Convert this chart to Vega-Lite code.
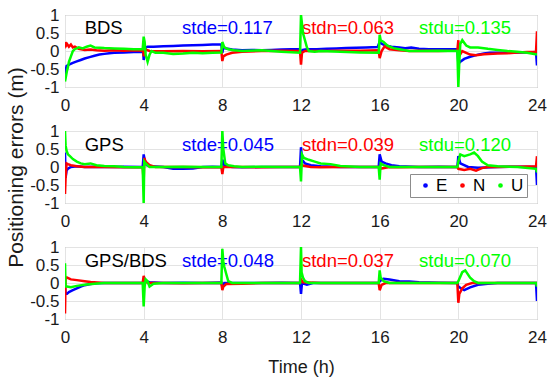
{
"$schema": "https://vega.github.io/schema/vega-lite/v6.json",
"padding": {"left": 5, "top": 5, "right": 5, "bottom": 0},
"bounds": "flush",
"spacing": 44,
"background": "white",
"config": {
  "font": "Liberation Sans",
  "view": {"stroke": "#999999", "strokeWidth": 1},
  "axis": {"grid": true, "gridColor": "#e3e3e3", "domain": false, "ticks": false, "tickSize": 0, "labelFontSize": 17, "labelColor": "#1a1a1a", "labelFont": "Liberation Sans", "titleFont": "Liberation Sans", "titleFontWeight": "normal", "titleColor": "#1a1a1a", "labelOverlap": false, "labelFlush": false},
  "axisX": {"labelPadding": 10},
  "axisY": {"labelPadding": 6},
  "text": {"font": "Liberation Sans"}
},
"resolve": {"scale": {"color": "independent"}, "legend": {"color": "independent"}},
"datasets": {
"errs": [
{"p":"BDS","s":"E","t":0,"v":-0.75},{"p":"BDS","s":"E","t":0.03,"v":-0.55},{"p":"BDS","s":"E","t":0.08,"v":-0.42},{"p":"BDS","s":"E","t":0.2,"v":-0.38},{"p":"BDS","s":"E","t":0.4,"v":-0.33},{"p":"BDS","s":"E","t":0.6,"v":-0.29},{"p":"BDS","s":"E","t":0.8,"v":-0.25},{"p":"BDS","s":"E","t":1.0,"v":-0.21},{"p":"BDS","s":"E","t":1.25,"v":-0.17},{"p":"BDS","s":"E","t":1.5,"v":-0.13},{"p":"BDS","s":"E","t":1.75,"v":-0.1},{"p":"BDS","s":"E","t":2,"v":-0.08},{"p":"BDS","s":"E","t":2.25,"v":-0.06},{"p":"BDS","s":"E","t":2.5,"v":-0.05},{"p":"BDS","s":"E","t":3,"v":-0.04},{"p":"BDS","s":"E","t":3.5,"v":-0.03},{"p":"BDS","s":"E","t":3.98,"v":-0.03},{"p":"BDS","s":"E","t":4.0,"v":-0.25},{"p":"BDS","s":"E","t":4.05,"v":-0.1},{"p":"BDS","s":"E","t":4.1,"v":0.1},{"p":"BDS","s":"E","t":4.2,"v":0.12},{"p":"BDS","s":"E","t":4.5,"v":0.12},{"p":"BDS","s":"E","t":5,"v":0.13},{"p":"BDS","s":"E","t":5.5,"v":0.14},{"p":"BDS","s":"E","t":6,"v":0.15},{"p":"BDS","s":"E","t":6.5,"v":0.16},{"p":"BDS","s":"E","t":7,"v":0.17},{"p":"BDS","s":"E","t":7.5,"v":0.18},{"p":"BDS","s":"E","t":7.95,"v":0.18},{"p":"BDS","s":"E","t":8.0,"v":-0.05},{"p":"BDS","s":"E","t":8.05,"v":0.1},{"p":"BDS","s":"E","t":8.2,"v":0.07},{"p":"BDS","s":"E","t":8.5,"v":0.04},{"p":"BDS","s":"E","t":9,"v":0.02},{"p":"BDS","s":"E","t":9.5,"v":0.03},{"p":"BDS","s":"E","t":10,"v":0.02},{"p":"BDS","s":"E","t":10.5,"v":0.03},{"p":"BDS","s":"E","t":11,"v":0.04},{"p":"BDS","s":"E","t":11.5,"v":0.05},{"p":"BDS","s":"E","t":11.95,"v":0.05},{"p":"BDS","s":"E","t":12.0,"v":-0.05},{"p":"BDS","s":"E","t":12.1,"v":0.03},{"p":"BDS","s":"E","t":12.3,"v":0.05},{"p":"BDS","s":"E","t":12.8,"v":0.05},{"p":"BDS","s":"E","t":13.3,"v":0.06},{"p":"BDS","s":"E","t":13.8,"v":0.07},{"p":"BDS","s":"E","t":14.3,"v":0.08},{"p":"BDS","s":"E","t":14.8,"v":0.09},{"p":"BDS","s":"E","t":15.3,"v":0.1},{"p":"BDS","s":"E","t":15.9,"v":0.11},{"p":"BDS","s":"E","t":16.0,"v":0.25},{"p":"BDS","s":"E","t":16.1,"v":0.2},{"p":"BDS","s":"E","t":16.3,"v":0.15},{"p":"BDS","s":"E","t":16.6,"v":0.12},{"p":"BDS","s":"E","t":17,"v":0.1},{"p":"BDS","s":"E","t":17.3,"v":0.08},{"p":"BDS","s":"E","t":17.6,"v":0.1},{"p":"BDS","s":"E","t":18,"v":0.06},{"p":"BDS","s":"E","t":18.5,"v":0.05},{"p":"BDS","s":"E","t":19,"v":0.05},{"p":"BDS","s":"E","t":19.5,"v":0.05},{"p":"BDS","s":"E","t":19.95,"v":0.05},{"p":"BDS","s":"E","t":20.0,"v":-0.35},{"p":"BDS","s":"E","t":20.1,"v":-0.3},{"p":"BDS","s":"E","t":20.3,"v":-0.22},{"p":"BDS","s":"E","t":20.6,"v":-0.16},{"p":"BDS","s":"E","t":21,"v":-0.1},{"p":"BDS","s":"E","t":21.3,"v":-0.07},{"p":"BDS","s":"E","t":21.6,"v":-0.05},{"p":"BDS","s":"E","t":22,"v":-0.05},{"p":"BDS","s":"E","t":22.5,"v":-0.05},{"p":"BDS","s":"E","t":23,"v":-0.04},{"p":"BDS","s":"E","t":23.5,"v":-0.04},{"p":"BDS","s":"E","t":23.95,"v":-0.03},{"p":"BDS","s":"E","t":24,"v":-0.4},
{"p":"BDS","s":"N","t":0,"v":0.25},{"p":"BDS","s":"N","t":0.05,"v":0.15},{"p":"BDS","s":"N","t":0.1,"v":0.2},{"p":"BDS","s":"N","t":0.2,"v":0.12},{"p":"BDS","s":"N","t":0.3,"v":0.18},{"p":"BDS","s":"N","t":0.4,"v":0.1},{"p":"BDS","s":"N","t":0.5,"v":0.12},{"p":"BDS","s":"N","t":0.7,"v":0.06},{"p":"BDS","s":"N","t":1,"v":0.03},{"p":"BDS","s":"N","t":1.3,"v":0.04},{"p":"BDS","s":"N","t":1.6,"v":0.02},{"p":"BDS","s":"N","t":2,"v":0.01},{"p":"BDS","s":"N","t":2.5,"v":0.02},{"p":"BDS","s":"N","t":3,"v":0.01},{"p":"BDS","s":"N","t":3.5,"v":0.02},{"p":"BDS","s":"N","t":3.98,"v":0.01},{"p":"BDS","s":"N","t":4.0,"v":-0.15},{"p":"BDS","s":"N","t":4.05,"v":0.05},{"p":"BDS","s":"N","t":4.3,"v":0.0},{"p":"BDS","s":"N","t":5,"v":-0.01},{"p":"BDS","s":"N","t":6,"v":0.0},{"p":"BDS","s":"N","t":7,"v":-0.01},{"p":"BDS","s":"N","t":7.95,"v":0.0},{"p":"BDS","s":"N","t":8.0,"v":-0.28},{"p":"BDS","s":"N","t":8.05,"v":-0.15},{"p":"BDS","s":"N","t":8.2,"v":-0.1},{"p":"BDS","s":"N","t":8.5,"v":-0.05},{"p":"BDS","s":"N","t":9,"v":-0.02},{"p":"BDS","s":"N","t":10,"v":0.0},{"p":"BDS","s":"N","t":11,"v":0.01},{"p":"BDS","s":"N","t":11.95,"v":0.0},{"p":"BDS","s":"N","t":12.0,"v":-0.38},{"p":"BDS","s":"N","t":12.05,"v":-0.05},{"p":"BDS","s":"N","t":12.2,"v":0.0},{"p":"BDS","s":"N","t":13,"v":0.0},{"p":"BDS","s":"N","t":14,"v":0.01},{"p":"BDS","s":"N","t":15,"v":0.01},{"p":"BDS","s":"N","t":15.95,"v":0.02},{"p":"BDS","s":"N","t":16.0,"v":-0.2},{"p":"BDS","s":"N","t":16.1,"v":0.0},{"p":"BDS","s":"N","t":16.25,"v":0.13},{"p":"BDS","s":"N","t":16.5,"v":0.05},{"p":"BDS","s":"N","t":17,"v":0.02},{"p":"BDS","s":"N","t":17.5,"v":0.0},{"p":"BDS","s":"N","t":18,"v":0.01},{"p":"BDS","s":"N","t":19,"v":0.0},{"p":"BDS","s":"N","t":19.95,"v":0.01},{"p":"BDS","s":"N","t":20.0,"v":0.3},{"p":"BDS","s":"N","t":20.03,"v":-0.15},{"p":"BDS","s":"N","t":20.2,"v":0.0},{"p":"BDS","s":"N","t":20.4,"v":-0.05},{"p":"BDS","s":"N","t":20.6,"v":-0.1},{"p":"BDS","s":"N","t":20.9,"v":-0.12},{"p":"BDS","s":"N","t":21.3,"v":-0.09},{"p":"BDS","s":"N","t":22,"v":-0.07},{"p":"BDS","s":"N","t":22.5,"v":-0.06},{"p":"BDS","s":"N","t":23,"v":-0.04},{"p":"BDS","s":"N","t":23.5,"v":-0.03},{"p":"BDS","s":"N","t":23.95,"v":-0.02},{"p":"BDS","s":"N","t":24,"v":0.55},
{"p":"BDS","s":"U","t":0,"v":-0.85},{"p":"BDS","s":"U","t":0.05,"v":-0.7},{"p":"BDS","s":"U","t":0.1,"v":-0.55},{"p":"BDS","s":"U","t":0.15,"v":-0.45},{"p":"BDS","s":"U","t":0.2,"v":-0.3},{"p":"BDS","s":"U","t":0.3,"v":-0.15},{"p":"BDS","s":"U","t":0.4,"v":0.0},{"p":"BDS","s":"U","t":0.5,"v":0.05},{"p":"BDS","s":"U","t":0.7,"v":0.1},{"p":"BDS","s":"U","t":0.9,"v":0.07},{"p":"BDS","s":"U","t":1.1,"v":0.12},{"p":"BDS","s":"U","t":1.3,"v":0.15},{"p":"BDS","s":"U","t":1.5,"v":0.1},{"p":"BDS","s":"U","t":2,"v":0.08},{"p":"BDS","s":"U","t":2.5,"v":0.07},{"p":"BDS","s":"U","t":3,"v":0.06},{"p":"BDS","s":"U","t":3.5,"v":0.05},{"p":"BDS","s":"U","t":3.95,"v":0.05},{"p":"BDS","s":"U","t":4.0,"v":0.4},{"p":"BDS","s":"U","t":4.05,"v":0.25},{"p":"BDS","s":"U","t":4.1,"v":-0.1},{"p":"BDS","s":"U","t":4.2,"v":-0.3},{"p":"BDS","s":"U","t":4.3,"v":-0.1},{"p":"BDS","s":"U","t":4.4,"v":0.0},{"p":"BDS","s":"U","t":4.6,"v":-0.05},{"p":"BDS","s":"U","t":5,"v":-0.05},{"p":"BDS","s":"U","t":5.5,"v":-0.08},{"p":"BDS","s":"U","t":6,"v":-0.07},{"p":"BDS","s":"U","t":6.5,"v":-0.05},{"p":"BDS","s":"U","t":7,"v":-0.06},{"p":"BDS","s":"U","t":7.5,"v":-0.05},{"p":"BDS","s":"U","t":7.95,"v":-0.04},{"p":"BDS","s":"U","t":8.0,"v":0.25},{"p":"BDS","s":"U","t":8.1,"v":0.1},{"p":"BDS","s":"U","t":8.3,"v":0.05},{"p":"BDS","s":"U","t":8.6,"v":0.02},{"p":"BDS","s":"U","t":9,"v":0.0},{"p":"BDS","s":"U","t":10,"v":0.02},{"p":"BDS","s":"U","t":11,"v":-0.02},{"p":"BDS","s":"U","t":11.95,"v":-0.05},{"p":"BDS","s":"U","t":12.0,"v":1.0},{"p":"BDS","s":"U","t":12.05,"v":0.75},{"p":"BDS","s":"U","t":12.1,"v":0.5},{"p":"BDS","s":"U","t":12.2,"v":0.3},{"p":"BDS","s":"U","t":12.3,"v":0.1},{"p":"BDS","s":"U","t":12.4,"v":0.0},{"p":"BDS","s":"U","t":12.7,"v":-0.02},{"p":"BDS","s":"U","t":13,"v":0.0},{"p":"BDS","s":"U","t":14,"v":-0.02},{"p":"BDS","s":"U","t":15,"v":-0.04},{"p":"BDS","s":"U","t":15.95,"v":-0.05},{"p":"BDS","s":"U","t":16.0,"v":0.45},{"p":"BDS","s":"U","t":16.05,"v":0.3},{"p":"BDS","s":"U","t":16.2,"v":0.25},{"p":"BDS","s":"U","t":16.4,"v":0.15},{"p":"BDS","s":"U","t":16.7,"v":0.08},{"p":"BDS","s":"U","t":17,"v":0.05},{"p":"BDS","s":"U","t":17.5,"v":0.0},{"p":"BDS","s":"U","t":18,"v":0.0},{"p":"BDS","s":"U","t":19,"v":0.01},{"p":"BDS","s":"U","t":19.95,"v":0.0},{"p":"BDS","s":"U","t":20.0,"v":-1.0},{"p":"BDS","s":"U","t":20.05,"v":-0.3},{"p":"BDS","s":"U","t":20.1,"v":0.2},{"p":"BDS","s":"U","t":20.2,"v":0.3},{"p":"BDS","s":"U","t":20.4,"v":0.15},{"p":"BDS","s":"U","t":20.6,"v":0.1},{"p":"BDS","s":"U","t":21,"v":0.1},{"p":"BDS","s":"U","t":21.5,"v":0.06},{"p":"BDS","s":"U","t":22,"v":0.03},{"p":"BDS","s":"U","t":22.5,"v":0.0},{"p":"BDS","s":"U","t":23,"v":-0.02},{"p":"BDS","s":"U","t":23.5,"v":-0.05},{"p":"BDS","s":"U","t":24,"v":-0.1},
{"p":"GPS","s":"E","t":0,"v":0.4},{"p":"GPS","s":"E","t":0.03,"v":-0.3},{"p":"GPS","s":"E","t":0.08,"v":-0.1},{"p":"GPS","s":"E","t":0.15,"v":-0.05},{"p":"GPS","s":"E","t":0.3,"v":0.0},{"p":"GPS","s":"E","t":0.6,"v":0.02},{"p":"GPS","s":"E","t":1,"v":0.0},{"p":"GPS","s":"E","t":1.5,"v":0.01},{"p":"GPS","s":"E","t":2,"v":0.0},{"p":"GPS","s":"E","t":3,"v":0.01},{"p":"GPS","s":"E","t":3.95,"v":0.0},{"p":"GPS","s":"E","t":4.0,"v":0.35},{"p":"GPS","s":"E","t":4.05,"v":0.2},{"p":"GPS","s":"E","t":4.15,"v":0.05},{"p":"GPS","s":"E","t":4.4,"v":0.02},{"p":"GPS","s":"E","t":5,"v":0.0},{"p":"GPS","s":"E","t":5.5,"v":-0.05},{"p":"GPS","s":"E","t":6,"v":-0.05},{"p":"GPS","s":"E","t":6.5,"v":-0.04},{"p":"GPS","s":"E","t":7,"v":0.0},{"p":"GPS","s":"E","t":7.5,"v":0.01},{"p":"GPS","s":"E","t":7.95,"v":0.0},{"p":"GPS","s":"E","t":8.0,"v":0.2},{"p":"GPS","s":"E","t":8.1,"v":0.05},{"p":"GPS","s":"E","t":8.5,"v":0.0},{"p":"GPS","s":"E","t":9,"v":-0.01},{"p":"GPS","s":"E","t":10,"v":0.0},{"p":"GPS","s":"E","t":11,"v":0.0},{"p":"GPS","s":"E","t":11.95,"v":0.0},{"p":"GPS","s":"E","t":12.0,"v":0.55},{"p":"GPS","s":"E","t":12.05,"v":0.2},{"p":"GPS","s":"E","t":12.2,"v":0.1},{"p":"GPS","s":"E","t":12.5,"v":0.05},{"p":"GPS","s":"E","t":13,"v":0.02},{"p":"GPS","s":"E","t":14,"v":0.0},{"p":"GPS","s":"E","t":15,"v":0.0},{"p":"GPS","s":"E","t":15.95,"v":0.0},{"p":"GPS","s":"E","t":16.0,"v":0.35},{"p":"GPS","s":"E","t":16.1,"v":0.15},{"p":"GPS","s":"E","t":16.3,"v":0.1},{"p":"GPS","s":"E","t":16.6,"v":0.05},{"p":"GPS","s":"E","t":17,"v":0.02},{"p":"GPS","s":"E","t":18,"v":0.0},{"p":"GPS","s":"E","t":19,"v":0.01},{"p":"GPS","s":"E","t":19.95,"v":0.0},{"p":"GPS","s":"E","t":20.0,"v":0.3},{"p":"GPS","s":"E","t":20.1,"v":0.1},{"p":"GPS","s":"E","t":20.5,"v":0.0},{"p":"GPS","s":"E","t":21,"v":-0.02},{"p":"GPS","s":"E","t":22,"v":0.0},{"p":"GPS","s":"E","t":23,"v":0.01},{"p":"GPS","s":"E","t":23.95,"v":0.0},{"p":"GPS","s":"E","t":24,"v":-0.5},
{"p":"GPS","s":"N","t":0,"v":-0.75},{"p":"GPS","s":"N","t":0.03,"v":-0.3},{"p":"GPS","s":"N","t":0.08,"v":0.1},{"p":"GPS","s":"N","t":0.15,"v":0.08},{"p":"GPS","s":"N","t":0.3,"v":0.05},{"p":"GPS","s":"N","t":0.6,"v":0.02},{"p":"GPS","s":"N","t":1,"v":0.0},{"p":"GPS","s":"N","t":2,"v":0.0},{"p":"GPS","s":"N","t":3,"v":-0.01},{"p":"GPS","s":"N","t":3.95,"v":0.0},{"p":"GPS","s":"N","t":4.0,"v":-0.4},{"p":"GPS","s":"N","t":4.03,"v":0.25},{"p":"GPS","s":"N","t":4.1,"v":0.15},{"p":"GPS","s":"N","t":4.3,"v":0.05},{"p":"GPS","s":"N","t":4.6,"v":0.0},{"p":"GPS","s":"N","t":5,"v":0.0},{"p":"GPS","s":"N","t":6,"v":0.0},{"p":"GPS","s":"N","t":7,"v":-0.01},{"p":"GPS","s":"N","t":7.95,"v":0.0},{"p":"GPS","s":"N","t":8.0,"v":-0.2},{"p":"GPS","s":"N","t":8.05,"v":0.0},{"p":"GPS","s":"N","t":9,"v":0.0},{"p":"GPS","s":"N","t":10,"v":-0.01},{"p":"GPS","s":"N","t":11,"v":0.0},{"p":"GPS","s":"N","t":11.95,"v":0.0},{"p":"GPS","s":"N","t":12.0,"v":0.05},{"p":"GPS","s":"N","t":12.5,"v":0.0},{"p":"GPS","s":"N","t":13,"v":-0.01},{"p":"GPS","s":"N","t":14,"v":0.0},{"p":"GPS","s":"N","t":15,"v":0.0},{"p":"GPS","s":"N","t":15.95,"v":0.0},{"p":"GPS","s":"N","t":16.0,"v":-0.05},{"p":"GPS","s":"N","t":16.5,"v":0.0},{"p":"GPS","s":"N","t":17,"v":-0.01},{"p":"GPS","s":"N","t":18,"v":0.0},{"p":"GPS","s":"N","t":19,"v":0.0},{"p":"GPS","s":"N","t":19.95,"v":0.0},{"p":"GPS","s":"N","t":20.0,"v":-0.05},{"p":"GPS","s":"N","t":20.3,"v":-0.08},{"p":"GPS","s":"N","t":20.6,"v":-0.05},{"p":"GPS","s":"N","t":20.9,"v":-0.1},{"p":"GPS","s":"N","t":21.2,"v":-0.03},{"p":"GPS","s":"N","t":21.5,"v":0.0},{"p":"GPS","s":"N","t":22,"v":0.0},{"p":"GPS","s":"N","t":23,"v":0.01},{"p":"GPS","s":"N","t":23.95,"v":0.02},{"p":"GPS","s":"N","t":24,"v":0.3},
{"p":"GPS","s":"U","t":0,"v":1.0},{"p":"GPS","s":"U","t":0.03,"v":0.6},{"p":"GPS","s":"U","t":0.08,"v":0.45},{"p":"GPS","s":"U","t":0.15,"v":0.35},{"p":"GPS","s":"U","t":0.25,"v":0.3},{"p":"GPS","s":"U","t":0.4,"v":0.22},{"p":"GPS","s":"U","t":0.6,"v":0.15},{"p":"GPS","s":"U","t":0.8,"v":0.1},{"p":"GPS","s":"U","t":1.0,"v":0.08},{"p":"GPS","s":"U","t":1.3,"v":0.1},{"p":"GPS","s":"U","t":1.6,"v":0.05},{"p":"GPS","s":"U","t":2,"v":0.03},{"p":"GPS","s":"U","t":2.5,"v":0.02},{"p":"GPS","s":"U","t":3,"v":0.0},{"p":"GPS","s":"U","t":3.5,"v":-0.01},{"p":"GPS","s":"U","t":3.95,"v":0.0},{"p":"GPS","s":"U","t":4.0,"v":-1.0},{"p":"GPS","s":"U","t":4.03,"v":0.15},{"p":"GPS","s":"U","t":4.1,"v":0.1},{"p":"GPS","s":"U","t":4.3,"v":0.0},{"p":"GPS","s":"U","t":5,"v":0.0},{"p":"GPS","s":"U","t":6,"v":0.01},{"p":"GPS","s":"U","t":7,"v":0.0},{"p":"GPS","s":"U","t":7.95,"v":0.0},{"p":"GPS","s":"U","t":8.0,"v":1.0},{"p":"GPS","s":"U","t":8.05,"v":0.5},{"p":"GPS","s":"U","t":8.15,"v":0.1},{"p":"GPS","s":"U","t":8.3,"v":0.05},{"p":"GPS","s":"U","t":8.6,"v":0.02},{"p":"GPS","s":"U","t":9,"v":0.0},{"p":"GPS","s":"U","t":10,"v":0.01},{"p":"GPS","s":"U","t":11,"v":0.0},{"p":"GPS","s":"U","t":11.95,"v":0.0},{"p":"GPS","s":"U","t":12.0,"v":-0.4},{"p":"GPS","s":"U","t":12.05,"v":0.35},{"p":"GPS","s":"U","t":12.15,"v":0.25},{"p":"GPS","s":"U","t":12.4,"v":0.2},{"p":"GPS","s":"U","t":12.7,"v":0.15},{"p":"GPS","s":"U","t":13,"v":0.1},{"p":"GPS","s":"U","t":13.5,"v":0.08},{"p":"GPS","s":"U","t":14,"v":0.03},{"p":"GPS","s":"U","t":15,"v":0.0},{"p":"GPS","s":"U","t":15.95,"v":0.0},{"p":"GPS","s":"U","t":16.0,"v":-0.35},{"p":"GPS","s":"U","t":16.05,"v":0.1},{"p":"GPS","s":"U","t":16.2,"v":0.05},{"p":"GPS","s":"U","t":16.5,"v":0.0},{"p":"GPS","s":"U","t":17,"v":0.0},{"p":"GPS","s":"U","t":18,"v":0.0},{"p":"GPS","s":"U","t":19,"v":0.0},{"p":"GPS","s":"U","t":19.95,"v":0.0},{"p":"GPS","s":"U","t":20.0,"v":0.15},{"p":"GPS","s":"U","t":20.1,"v":0.35},{"p":"GPS","s":"U","t":20.3,"v":0.3},{"p":"GPS","s":"U","t":20.6,"v":0.35},{"p":"GPS","s":"U","t":20.8,"v":0.4},{"p":"GPS","s":"U","t":21.0,"v":0.3},{"p":"GPS","s":"U","t":21.2,"v":0.15},{"p":"GPS","s":"U","t":21.5,"v":0.05},{"p":"GPS","s":"U","t":22,"v":0.02},{"p":"GPS","s":"U","t":23,"v":0.0},{"p":"GPS","s":"U","t":23.95,"v":-0.05},{"p":"GPS","s":"U","t":24,"v":-0.15},
{"p":"GPS/BDS","s":"E","t":0,"v":-0.1},{"p":"GPS/BDS","s":"E","t":0.03,"v":-0.3},{"p":"GPS/BDS","s":"E","t":0.1,"v":-0.3},{"p":"GPS/BDS","s":"E","t":0.2,"v":-0.25},{"p":"GPS/BDS","s":"E","t":0.4,"v":-0.2},{"p":"GPS/BDS","s":"E","t":0.6,"v":-0.15},{"p":"GPS/BDS","s":"E","t":0.8,"v":-0.1},{"p":"GPS/BDS","s":"E","t":1,"v":-0.06},{"p":"GPS/BDS","s":"E","t":1.3,"v":-0.03},{"p":"GPS/BDS","s":"E","t":1.6,"v":-0.01},{"p":"GPS/BDS","s":"E","t":2,"v":0.0},{"p":"GPS/BDS","s":"E","t":3,"v":0.0},{"p":"GPS/BDS","s":"E","t":3.95,"v":0.0},{"p":"GPS/BDS","s":"E","t":4.0,"v":-0.05},{"p":"GPS/BDS","s":"E","t":4.1,"v":0.05},{"p":"GPS/BDS","s":"E","t":4.3,"v":0.02},{"p":"GPS/BDS","s":"E","t":5,"v":0.0},{"p":"GPS/BDS","s":"E","t":6,"v":0.01},{"p":"GPS/BDS","s":"E","t":7,"v":0.0},{"p":"GPS/BDS","s":"E","t":7.95,"v":0.01},{"p":"GPS/BDS","s":"E","t":8.0,"v":-0.1},{"p":"GPS/BDS","s":"E","t":8.1,"v":0.0},{"p":"GPS/BDS","s":"E","t":9,"v":0.0},{"p":"GPS/BDS","s":"E","t":10,"v":0.0},{"p":"GPS/BDS","s":"E","t":11,"v":0.01},{"p":"GPS/BDS","s":"E","t":11.95,"v":0.0},{"p":"GPS/BDS","s":"E","t":12.0,"v":-0.3},{"p":"GPS/BDS","s":"E","t":12.05,"v":0.0},{"p":"GPS/BDS","s":"E","t":12.3,"v":-0.05},{"p":"GPS/BDS","s":"E","t":12.6,"v":0.0},{"p":"GPS/BDS","s":"E","t":13,"v":0.0},{"p":"GPS/BDS","s":"E","t":14,"v":0.0},{"p":"GPS/BDS","s":"E","t":15,"v":0.0},{"p":"GPS/BDS","s":"E","t":15.95,"v":0.0},{"p":"GPS/BDS","s":"E","t":16.0,"v":0.05},{"p":"GPS/BDS","s":"E","t":16.2,"v":0.12},{"p":"GPS/BDS","s":"E","t":16.5,"v":0.1},{"p":"GPS/BDS","s":"E","t":17,"v":0.05},{"p":"GPS/BDS","s":"E","t":17.5,"v":0.04},{"p":"GPS/BDS","s":"E","t":18,"v":0.02},{"p":"GPS/BDS","s":"E","t":19,"v":0.01},{"p":"GPS/BDS","s":"E","t":19.95,"v":0.0},{"p":"GPS/BDS","s":"E","t":20.0,"v":-0.1},{"p":"GPS/BDS","s":"E","t":20.3,"v":-0.2},{"p":"GPS/BDS","s":"E","t":20.6,"v":-0.12},{"p":"GPS/BDS","s":"E","t":21,"v":-0.05},{"p":"GPS/BDS","s":"E","t":21.5,"v":-0.02},{"p":"GPS/BDS","s":"E","t":22,"v":0.0},{"p":"GPS/BDS","s":"E","t":23,"v":0.0},{"p":"GPS/BDS","s":"E","t":23.95,"v":0.0},{"p":"GPS/BDS","s":"E","t":24,"v":-0.5},
{"p":"GPS/BDS","s":"N","t":0,"v":-0.85},{"p":"GPS/BDS","s":"N","t":0.03,"v":0.15},{"p":"GPS/BDS","s":"N","t":0.1,"v":0.15},{"p":"GPS/BDS","s":"N","t":0.3,"v":0.1},{"p":"GPS/BDS","s":"N","t":0.6,"v":0.08},{"p":"GPS/BDS","s":"N","t":1,"v":0.05},{"p":"GPS/BDS","s":"N","t":1.3,"v":0.03},{"p":"GPS/BDS","s":"N","t":2,"v":0.0},{"p":"GPS/BDS","s":"N","t":3,"v":0.0},{"p":"GPS/BDS","s":"N","t":3.95,"v":0.0},{"p":"GPS/BDS","s":"N","t":4.0,"v":0.2},{"p":"GPS/BDS","s":"N","t":4.05,"v":0.1},{"p":"GPS/BDS","s":"N","t":4.2,"v":0.0},{"p":"GPS/BDS","s":"N","t":5,"v":0.0},{"p":"GPS/BDS","s":"N","t":6,"v":-0.01},{"p":"GPS/BDS","s":"N","t":7,"v":0.0},{"p":"GPS/BDS","s":"N","t":7.95,"v":0.0},{"p":"GPS/BDS","s":"N","t":8.0,"v":-0.2},{"p":"GPS/BDS","s":"N","t":8.05,"v":-0.1},{"p":"GPS/BDS","s":"N","t":8.2,"v":-0.03},{"p":"GPS/BDS","s":"N","t":9,"v":-0.02},{"p":"GPS/BDS","s":"N","t":10,"v":0.0},{"p":"GPS/BDS","s":"N","t":11,"v":0.0},{"p":"GPS/BDS","s":"N","t":11.95,"v":0.0},{"p":"GPS/BDS","s":"N","t":12.0,"v":0.1},{"p":"GPS/BDS","s":"N","t":12.1,"v":0.02},{"p":"GPS/BDS","s":"N","t":13,"v":0.0},{"p":"GPS/BDS","s":"N","t":14,"v":0.0},{"p":"GPS/BDS","s":"N","t":15,"v":0.0},{"p":"GPS/BDS","s":"N","t":15.95,"v":0.0},{"p":"GPS/BDS","s":"N","t":16.0,"v":-0.2},{"p":"GPS/BDS","s":"N","t":16.1,"v":-0.05},{"p":"GPS/BDS","s":"N","t":16.3,"v":0.0},{"p":"GPS/BDS","s":"N","t":17,"v":0.0},{"p":"GPS/BDS","s":"N","t":18,"v":0.0},{"p":"GPS/BDS","s":"N","t":19,"v":0.0},{"p":"GPS/BDS","s":"N","t":19.95,"v":0.0},{"p":"GPS/BDS","s":"N","t":20.0,"v":-0.55},{"p":"GPS/BDS","s":"N","t":20.05,"v":-0.3},{"p":"GPS/BDS","s":"N","t":20.2,"v":-0.15},{"p":"GPS/BDS","s":"N","t":20.4,"v":-0.05},{"p":"GPS/BDS","s":"N","t":20.7,"v":0.0},{"p":"GPS/BDS","s":"N","t":21,"v":0.0},{"p":"GPS/BDS","s":"N","t":22,"v":0.0},{"p":"GPS/BDS","s":"N","t":23,"v":0.0},{"p":"GPS/BDS","s":"N","t":24,"v":0.0},
{"p":"GPS/BDS","s":"U","t":0,"v":0.55},{"p":"GPS/BDS","s":"U","t":0.03,"v":-0.1},{"p":"GPS/BDS","s":"U","t":0.1,"v":-0.1},{"p":"GPS/BDS","s":"U","t":0.3,"v":-0.12},{"p":"GPS/BDS","s":"U","t":0.6,"v":-0.08},{"p":"GPS/BDS","s":"U","t":1,"v":-0.05},{"p":"GPS/BDS","s":"U","t":1.5,"v":-0.02},{"p":"GPS/BDS","s":"U","t":2,"v":0.0},{"p":"GPS/BDS","s":"U","t":3,"v":0.0},{"p":"GPS/BDS","s":"U","t":3.95,"v":0.0},{"p":"GPS/BDS","s":"U","t":4.0,"v":-0.65},{"p":"GPS/BDS","s":"U","t":4.05,"v":-0.1},{"p":"GPS/BDS","s":"U","t":4.1,"v":0.1},{"p":"GPS/BDS","s":"U","t":4.2,"v":0.05},{"p":"GPS/BDS","s":"U","t":4.3,"v":-0.1},{"p":"GPS/BDS","s":"U","t":4.5,"v":-0.02},{"p":"GPS/BDS","s":"U","t":5,"v":0.0},{"p":"GPS/BDS","s":"U","t":6,"v":0.0},{"p":"GPS/BDS","s":"U","t":7,"v":0.0},{"p":"GPS/BDS","s":"U","t":7.95,"v":0.0},{"p":"GPS/BDS","s":"U","t":8.0,"v":0.95},{"p":"GPS/BDS","s":"U","t":8.05,"v":0.6},{"p":"GPS/BDS","s":"U","t":8.1,"v":0.45},{"p":"GPS/BDS","s":"U","t":8.2,"v":0.25},{"p":"GPS/BDS","s":"U","t":8.3,"v":0.05},{"p":"GPS/BDS","s":"U","t":8.5,"v":0.0},{"p":"GPS/BDS","s":"U","t":9,"v":0.0},{"p":"GPS/BDS","s":"U","t":10,"v":0.0},{"p":"GPS/BDS","s":"U","t":11,"v":0.0},{"p":"GPS/BDS","s":"U","t":11.95,"v":0.0},{"p":"GPS/BDS","s":"U","t":12.0,"v":1.0},{"p":"GPS/BDS","s":"U","t":12.03,"v":0.3},{"p":"GPS/BDS","s":"U","t":12.1,"v":0.15},{"p":"GPS/BDS","s":"U","t":12.2,"v":0.05},{"p":"GPS/BDS","s":"U","t":12.4,"v":0.0},{"p":"GPS/BDS","s":"U","t":13,"v":0.0},{"p":"GPS/BDS","s":"U","t":14,"v":0.0},{"p":"GPS/BDS","s":"U","t":15,"v":0.0},{"p":"GPS/BDS","s":"U","t":15.95,"v":0.0},{"p":"GPS/BDS","s":"U","t":16.0,"v":0.35},{"p":"GPS/BDS","s":"U","t":16.05,"v":0.15},{"p":"GPS/BDS","s":"U","t":16.2,"v":0.05},{"p":"GPS/BDS","s":"U","t":16.5,"v":0.0},{"p":"GPS/BDS","s":"U","t":17,"v":0.0},{"p":"GPS/BDS","s":"U","t":18,"v":0.0},{"p":"GPS/BDS","s":"U","t":19,"v":0.0},{"p":"GPS/BDS","s":"U","t":19.95,"v":0.0},{"p":"GPS/BDS","s":"U","t":20.0,"v":0.05},{"p":"GPS/BDS","s":"U","t":20.2,"v":0.3},{"p":"GPS/BDS","s":"U","t":20.35,"v":0.35},{"p":"GPS/BDS","s":"U","t":20.6,"v":0.15},{"p":"GPS/BDS","s":"U","t":20.8,"v":0.05},{"p":"GPS/BDS","s":"U","t":21,"v":0.0},{"p":"GPS/BDS","s":"U","t":22,"v":0.0},{"p":"GPS/BDS","s":"U","t":23,"v":0.0},{"p":"GPS/BDS","s":"U","t":23.95,"v":0.0},{"p":"GPS/BDS","s":"U","t":24,"v":-0.1}
]
},
"vconcat": [
{
  "width": 472, "height": 72,
  "encoding": {
    "x": {"type": "quantitative", "scale": {"domain": [0, 24], "nice": false}, "axis": {"title": null, "values": [0, 4, 8, 12, 16, 20, 24]}},
    "y": {"type": "quantitative", "scale": {"domain": [-1, 1], "nice": false}, "axis": {"title": null, "values": [-1, -0.5, 0, 0.5, 1], "labelExpr": "'' + datum.value", "labelOverlap": false, "labelSeparation": 0}}
  },
  "layer": [
    {"data": {"values": [{}]}, "mark": {"type": "text", "align": "left", "baseline": "middle", "fontSize": 18.5, "color": "#000000"}, "encoding": {"x": {"datum": 1.0}, "y": {"datum": 0.64}, "text": {"value": "BDS"}}},
    {"data": {"values": [{}]}, "mark": {"type": "text", "align": "left", "baseline": "middle", "fontSize": 18.5, "color": "#0000ff"}, "encoding": {"x": {"datum": 5.95}, "y": {"datum": 0.64}, "text": {"value": "stde=0.117"}}},
    {"data": {"values": [{}]}, "mark": {"type": "text", "align": "left", "baseline": "middle", "fontSize": 18.5, "color": "#ff0000"}, "encoding": {"x": {"datum": 12.05}, "y": {"datum": 0.64}, "text": {"value": "stdn=0.063"}}},
    {"data": {"values": [{}]}, "mark": {"type": "text", "align": "left", "baseline": "middle", "fontSize": 18.5, "color": "#00ff00"}, "encoding": {"x": {"datum": 18.0}, "y": {"datum": 0.64}, "text": {"value": "stdu=0.135"}}},
    {"data": {"name": "errs"}, "transform": [{"filter": "datum.p === 'BDS'"}],
     "mark": {"type": "line", "strokeWidth": 2.5, "clip": true},
     "encoding": {
       "x": {"field": "t"},
       "y": {"field": "v"},
       "color": {"field": "s", "type": "nominal", "scale": {"domain": ["E", "N", "U"], "range": ["#0000ff", "#ff0000", "#00ff00"]}, "legend": null}
     }}
  ]
},
{
  "width": 472, "height": 72,
  "encoding": {
    "x": {"type": "quantitative", "scale": {"domain": [0, 24], "nice": false}, "axis": {"title": null, "values": [0, 4, 8, 12, 16, 20, 24]}},
    "y": {"type": "quantitative", "scale": {"domain": [-1, 1], "nice": false}, "axis": {"title": "Positioning errors (m)", "titleFontSize": 21, "titlePadding": 3, "values": [-1, -0.5, 0, 0.5, 1], "labelExpr": "'' + datum.value", "labelOverlap": false, "labelSeparation": 0}}
  },
  "layer": [
    {"data": {"values": [{}]}, "mark": {"type": "text", "align": "left", "baseline": "middle", "fontSize": 18.5, "color": "#000000"}, "encoding": {"x": {"datum": 1.0}, "y": {"datum": 0.62}, "text": {"value": "GPS"}}},
    {"data": {"values": [{}]}, "mark": {"type": "text", "align": "left", "baseline": "middle", "fontSize": 18.5, "color": "#0000ff"}, "encoding": {"x": {"datum": 5.95}, "y": {"datum": 0.62}, "text": {"value": "stde=0.045"}}},
    {"data": {"values": [{}]}, "mark": {"type": "text", "align": "left", "baseline": "middle", "fontSize": 18.5, "color": "#ff0000"}, "encoding": {"x": {"datum": 12.05}, "y": {"datum": 0.62}, "text": {"value": "stdn=0.039"}}},
    {"data": {"values": [{}]}, "mark": {"type": "text", "align": "left", "baseline": "middle", "fontSize": 18.5, "color": "#00ff00"}, "encoding": {"x": {"datum": 18.0}, "y": {"datum": 0.62}, "text": {"value": "stdu=0.120"}}},
    {"data": {"name": "errs"}, "transform": [{"filter": "datum.p === 'GPS'"}],
     "mark": {"type": "line", "strokeWidth": 2.5, "clip": true},
     "encoding": {
       "x": {"field": "t"},
       "y": {"field": "v"},
       "color": {"field": "s", "type": "nominal", "scale": {"domain": ["E", "N", "U"], "range": ["#0000ff", "#ff0000", "#00ff00"]},
         "legend": {"orient": "none", "legendX": 345, "legendY": 43, "direction": "horizontal", "title": null, "symbolType": "circle", "symbolSize": 5, "symbolStrokeWidth": 2.5, "labelFontSize": 17, "labelFont": "Liberation Sans", "labelColor": "#000000", "strokeColor": "#8c8c8c", "fillColor": "#ffffff", "padding": 3, "columnPadding": 2, "labelOffset": 2, "symbolOffset": 4, "gridAlign": "none", "labelExpr": "datum.label == 'U' ? 'U\u00a0\u00a0' : datum.label"}}
     }}
  ]
},
{
  "width": 472, "height": 72,
  "encoding": {
    "x": {"type": "quantitative", "scale": {"domain": [0, 24], "nice": false}, "axis": {"title": "Time (h)", "titleFontSize": 18, "titlePadding": 13, "values": [0, 4, 8, 12, 16, 20, 24]}},
    "y": {"type": "quantitative", "scale": {"domain": [-1, 1], "nice": false}, "axis": {"title": null, "values": [-1, -0.5, 0, 0.5, 1], "labelExpr": "'' + datum.value", "labelOverlap": false, "labelSeparation": 0}}
  },
  "layer": [
    {"data": {"values": [{}]}, "mark": {"type": "text", "align": "left", "baseline": "middle", "fontSize": 18.5, "color": "#000000"}, "encoding": {"x": {"datum": 1.0}, "y": {"datum": 0.62}, "text": {"value": "GPS/BDS"}}},
    {"data": {"values": [{}]}, "mark": {"type": "text", "align": "left", "baseline": "middle", "fontSize": 18.5, "color": "#0000ff"}, "encoding": {"x": {"datum": 5.95}, "y": {"datum": 0.62}, "text": {"value": "stde=0.048"}}},
    {"data": {"values": [{}]}, "mark": {"type": "text", "align": "left", "baseline": "middle", "fontSize": 18.5, "color": "#ff0000"}, "encoding": {"x": {"datum": 12.05}, "y": {"datum": 0.62}, "text": {"value": "stdn=0.037"}}},
    {"data": {"values": [{}]}, "mark": {"type": "text", "align": "left", "baseline": "middle", "fontSize": 18.5, "color": "#00ff00"}, "encoding": {"x": {"datum": 18.0}, "y": {"datum": 0.62}, "text": {"value": "stdu=0.070"}}},
    {"data": {"name": "errs"}, "transform": [{"filter": "datum.p === 'GPS/BDS'"}],
     "mark": {"type": "line", "strokeWidth": 2.5, "clip": true},
     "encoding": {
       "x": {"field": "t"},
       "y": {"field": "v"},
       "color": {"field": "s", "type": "nominal", "scale": {"domain": ["E", "N", "U"], "range": ["#0000ff", "#ff0000", "#00ff00"]}, "legend": null}
     }}
  ]
}
]
}
